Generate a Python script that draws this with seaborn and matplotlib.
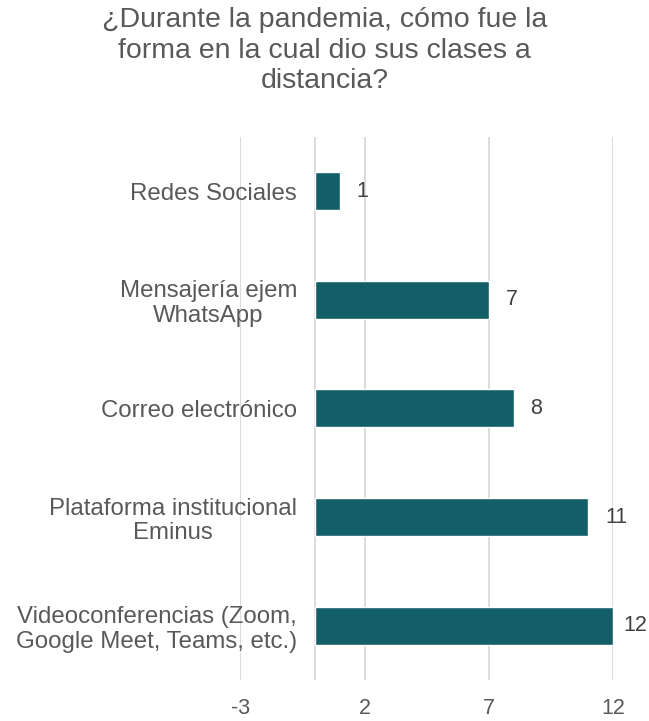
import matplotlib
matplotlib.use("Agg")
import matplotlib.pyplot as plt
import pandas as pd
import seaborn as sns

categories = [
    "Redes Sociales",
    "Mensajería ejem\nWhatsApp",
    "Correo electrónico",
    "Plataforma institucional\nEminus",
    "Videoconferencias (Zoom,\nGoogle Meet, Teams, etc.)",
]
counts = [1, 7, 8, 11, 12]
x_ticks = [-3, 2, 7, 12]
title = "¿Durante la pandemia, cómo fue la\nforma en la cual dio sus clases a\ndistancia?"

sns.set_theme(style="white")
plt.rcParams["font.family"] = ["Liberation Sans", "DejaVu Sans"]
plt.rcParams["axes.unicode_minus"] = False

df = pd.DataFrame({"forma": categories, "n": counts})

fig = plt.figure(figsize=(6.49, 7.21), dpi=100)
ax = fig.add_axes([0.370, 0.057, 0.575, 0.753])

sns.barplot(data=df, x="n", y="forma", orient="h", color="#135F68",
            saturation=1, width=0.35, ax=ax, zorder=3)

ax.set_xlim(-3, 12)
ax.set_xticks(x_ticks)
ax.xaxis.grid(True, color="#D9D9D9", linewidth=1.3, zorder=0)
ax.axvline(0, color="#D9D9D9", linewidth=1.3, zorder=1)
for s in ax.spines.values():
    s.set_visible(False)

# category labels sit left of the zero line, over the -3 gridline
ax.tick_params(axis="x", length=0, pad=13, labelsize=15.5, labelcolor="#595959")
ax.tick_params(axis="y", length=0, pad=-41, labelsize=17.3, labelcolor="#595959")
plt.setp(ax.get_yticklabels(), multialignment="center", linespacing=1.15)
ax.set_xlabel("")
ax.set_ylabel("")

for i, v in enumerate(counts):
    off = 7 if v == max(counts) else 12
    ax.annotate(str(v), (v, i), xytext=(off, 0), textcoords="offset points",
                va="center", ha="left", fontsize=15.5, color="#404040")

fig.text(0.5, 0.99, title, ha="center", va="top", fontsize=20.5,
         color="#595959", linespacing=1.22)

fig.savefig("out.png", dpi=100)
